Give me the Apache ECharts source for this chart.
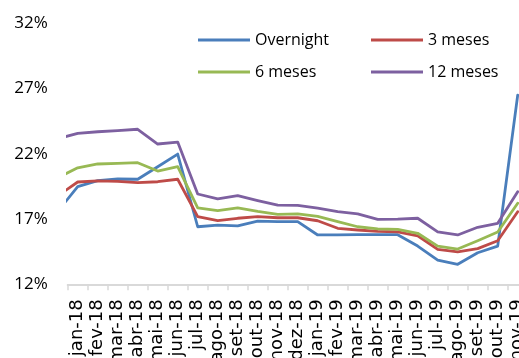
<!DOCTYPE html>
<html>
<head>
<meta charset="utf-8">
<script src="https://cdn.jsdelivr.net/npm/echarts@6/dist/echarts.min.js"></script>
<style>
  html, body { margin: 0; padding: 0; background: #fff; }
  #chart { width: 519px; height: 358px; }
</style>
</head>
<body>
<div id="chart"></div>
<script>
// Month labels shown on the axis
const months = ['jan-18','fev-18','mar-18','abr-18','mai-18','jun-18','jul-18','ago-18','set-18',
  'out-18','nov-18','dez-18','jan-19','fev-19','mar-19','abr-19','mai-19','jun-19','jul-19',
  'ago-19','set-19','out-19','nov-19'];

// Rates in %; the first value of each series is dez-17, which only enters as the lead-in segment
const overnight = [17.59, 19.48, 19.94, 20.07, 20.05, 21.01, 21.98, 16.41, 16.54, 16.47, 16.84, 16.80,
  16.80, 15.78, 15.78, 15.80, 15.80, 15.80, 14.93, 13.86, 13.53, 14.42, 14.93, 26.50];
const meses3 = [18.77, 19.84, 19.92, 19.89, 19.79, 19.86, 20.05, 17.18, 16.88, 17.06, 17.18, 17.10,
  17.10, 16.87, 16.29, 16.16, 16.06, 16.01, 15.72, 14.68, 14.48, 14.73, 15.34, 17.56];
const meses6 = [20.17, 20.93, 21.22, 21.27, 21.32, 20.68, 21.01, 17.85, 17.64, 17.85, 17.58, 17.36,
  17.39, 17.20, 16.80, 16.41, 16.24, 16.21, 15.91, 14.93, 14.70, 15.34, 16.01, 18.21];
const meses12 = [23.16, 23.57, 23.69, 23.77, 23.88, 22.75, 22.90, 18.92, 18.54, 18.79, 18.41, 18.06,
  18.05, 17.84, 17.57, 17.39, 16.98, 17.00, 17.06, 16.01, 15.78, 16.37, 16.67, 19.10];

// Y axis range and step
const yMin = 12, yMax = 32, yStep = 5;

const FONT = '"Open Sans", "Liberation Sans", sans-serif';
const AXIS_FONT = '"DejaVu Sans", "Open Sans", sans-serif';

// Pair each value with its month position (dez-17 sits at -1, just left of the plot)
const toPoints = arr => arr.map((v, i) => [i - 1, v]);

const seriesDefs = [
  { name: 'Overnight', data: overnight, color: '#4A7EBB' },
  { name: '3 meses',   data: meses3,    color: '#BE4B48' },
  { name: '6 meses',   data: meses6,    color: '#98B954' },
  { name: '12 meses',  data: meses12,   color: '#7D60A0' }
];

const legendPos = [
  { left: 198, top: 30 }, { left: 371, top: 30 },
  { left: 198, top: 62 }, { left: 371, top: 62 }
];

const chart = echarts.init(document.getElementById('chart'), null, { renderer: 'canvas' });

chart.setOption({
  animation: false,
  backgroundColor: '#ffffff',
  // the plot runs a little past the right edge, so nov-19 is cut off
  grid: { left: 67.7, top: 23.3, width: 460, height: 261, containLabel: false, outerBoundsMode: 'none' },
  legend: seriesDefs.map((s, i) => ({
    data: [s.name],
    left: legendPos[i].left,
    top: legendPos[i].top,
    padding: 0,
    icon: 'rect',
    itemWidth: 52,
    itemHeight: 3,
    selectedMode: false,
    textStyle: { fontFamily: FONT, fontSize: 16, color: '#000', lineHeight: 20 }
  })),
  xAxis: [
    {
      type: 'category',
      data: months,
      boundaryGap: true,
      axisLine: { show: true, lineStyle: { color: '#d9d9d9', width: 2 } },
      axisTick: { show: true, length: 6, lineStyle: { color: '#d9d9d9', width: 1.5 }, alignWithLabel: false },
      axisLabel: {
        interval: 0, rotate: 90, margin: 15, hideOverlap: false,
        fontFamily: AXIS_FONT, fontSize: 18, color: '#000'
      },
      splitLine: { show: false }
    },
    {
      type: 'value',
      show: false,
      min: -0.5,
      max: months.length - 0.5,
      splitLine: { show: false }
    }
  ],
  yAxis: {
    type: 'value',
    min: yMin, max: yMax, interval: yStep,
    axisLine: { show: false },
    axisTick: { show: false },
    splitLine: { show: false },
    axisLabel: {
      formatter: '{value}%', margin: 20,
      fontFamily: FONT, fontSize: 17, color: '#000'
    }
  },
  series: seriesDefs.map(s => ({
    name: s.name,
    type: 'line',
    xAxisIndex: 1,
    data: toPoints(s.data),
    clip: true,
    showSymbol: false,
    symbol: 'none',
    color: s.color,
    lineStyle: { color: s.color, width: 2.8, cap: 'round', join: 'round' },
    emphasis: { disabled: true }
  }))
});
</script>
</body>
</html>
